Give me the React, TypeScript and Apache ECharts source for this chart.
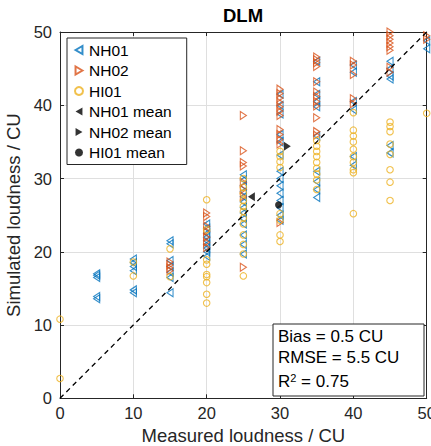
import React, { useEffect, useRef } from 'react';
import * as echarts from 'echarts';

const FONT = '"Liberation Sans", Arial, Helvetica, sans-serif';

// [measured, simulated] loudness in CU
const nh01: [number, number][] = [
  [5, 16.5], [5, 17.0], [5, 16.8], [5, 13.6], [5, 13.9],
  [10, 19.0], [10, 18.5], [10, 18.0], [10, 17.4], [10, 14.8], [10, 14.4],
  [15, 21.5], [15, 21.1], [15, 18.8], [15, 18.0], [15, 17.2], [15, 16.5], [15, 14.4],
  [20, 23.8], [20, 23.2], [20, 22.5], [20, 22.0], [20, 21.5], [20, 21.0], [20, 20.5], [20, 20.0], [20, 19.4],
  [25, 30.5], [25, 29.8], [25, 29.0], [25, 28.2], [25, 27.5], [25, 26.8], [25, 26.0], [25, 25.3], [25, 24.5], [25, 23.8], [25, 22.3], [25, 21.0], [25, 19.7],
  [30, 41.5], [30, 40.0], [30, 38.8], [30, 36.0], [30, 35.0], [30, 33.2], [30, 31.0], [30, 30.0], [30, 29.0], [30, 28.0], [30, 27.0], [30, 26.0], [30, 25.0], [30, 24.3],
  [35, 46.0], [35, 43.2], [35, 41.5], [35, 40.5], [35, 39.8], [35, 35.8], [35, 31.0], [35, 29.6], [35, 28.5], [35, 27.4],
  [40, 45.5], [40, 44.5], [40, 40.5], [40, 39.4], [40, 33.0], [40, 31.8],
  [45, 46.0], [45, 45.0], [45, 44.0], [45, 43.6], [45, 34.5], [45, 33.5],
  [50, 47.7], [50, 48.8],
];

const nh02: [number, number][] = [
  [15, 18.6], [15, 18.2], [15, 17.8], [15, 17.4],
  [20, 25.3], [20, 24.8], [20, 23.5], [20, 22.8], [20, 22.0], [20, 21.3], [20, 20.6],
  [25, 38.6], [25, 33.8], [25, 32.2], [25, 31.7], [25, 29.5], [25, 28.5], [25, 27.5], [25, 17.9],
  [30, 42.2], [30, 41.6], [30, 41.0], [30, 40.4], [30, 39.8], [30, 39.2], [30, 38.6], [30, 36.7], [30, 36.0], [30, 35.3], [30, 34.7], [30, 24.0],
  [35, 46.6], [35, 46.2], [35, 45.8], [35, 45.3], [35, 43.2], [35, 41.8], [35, 41.2], [35, 40.5], [35, 39.9], [35, 38.3], [35, 36.4], [35, 35.9],
  [40, 46.0], [40, 45.5], [40, 44.2], [40, 40.9], [40, 40.2],
  [45, 50.0], [45, 49.5], [45, 49.0], [45, 48.5], [45, 48.0], [45, 47.5], [45, 45.2], [45, 44.5],
  [50, 49.5], [50, 49.0],
];

const hi01: [number, number][] = [
  [0, 10.8], [0, 2.7],
  [10, 18.6], [10, 16.7],
  [15, 20.4], [15, 16.6],
  [20, 27.1], [20, 23.0], [20, 18.9], [20, 18.3], [20, 16.9], [20, 16.6], [20, 15.8], [20, 14.2], [20, 13.0],
  [25, 30.0], [25, 28.8], [25, 28.0], [25, 27.0], [25, 26.2], [25, 25.5], [25, 24.6], [25, 23.8], [25, 22.3], [25, 21.0], [25, 19.7], [25, 16.7],
  [30, 33.7], [30, 33.0], [30, 32.3], [30, 31.5], [30, 25.2], [30, 24.3], [30, 22.3], [30, 21.4],
  [35, 35.2], [35, 34.4], [35, 33.7], [35, 33.0], [35, 32.2], [35, 31.4], [35, 30.6], [35, 29.8], [35, 28.5],
  [40, 39.0], [40, 36.6], [40, 35.8], [40, 35.0], [40, 34.0], [40, 33.0], [40, 32.2], [40, 31.2], [40, 30.8], [40, 25.2],
  [45, 37.7], [45, 37.1], [45, 36.4], [45, 34.7], [45, 33.3], [45, 31.2], [45, 29.5], [45, 27.0],
  [50, 38.9],
];

const nh01Mean: [number, number][] = [[26.1, 27.5]];
const nh02Mean: [number, number][] = [[31.0, 34.4]];
const hi01Mean: [number, number][] = [[29.8, 26.4]];

const identityLine: [number, number][] = [[0, 0], [50, 50]];

const statsLines = ['Bias = 0.5 CU', 'RMSE = 5.5 CU'];
const r2Text = ' = 0.75';

const LEFT_TRI = 'path://M0,5L8.66,0L8.66,10Z';
const RIGHT_TRI = 'path://M8.66,5L0,0L0,10Z';

const AX = '#262626';

function hollow(color: string) {
  return { color: 'rgba(255,255,255,0)', borderColor: color, borderWidth: 1.1 };
}

export default function App() {
  const ref = useRef<HTMLDivElement>(null);
  useEffect(() => {
    if (!ref.current) return;
    const chart = echarts.init(ref.current, null, { renderer: 'svg' });
    const axisCommon = {
      type: 'value' as const,
      min: 0,
      max: 50,
      interval: 10,
      axisLine: { show: true, onZero: false, lineStyle: { color: AX, width: 1 } },
      axisTick: { show: true, inside: true, length: 4, lineStyle: { color: AX, width: 1 } },
    };
    chart.setOption({
      animation: false,
      backgroundColor: '#fff',
      title: {
        text: 'DLM',
        left: 223,
        top: 6,
        padding: 0,
        textStyle: { fontFamily: FONT, fontSize: 18.5, fontWeight: 'bold', color: '#000' },
      },
      grid: { left: 60, top: 32, right: 4.3, bottom: 47.7, containLabel: false, outerBoundsMode: 'none' },
      xAxis: [
        {
          ...axisCommon,
          position: 'bottom',
          name: 'Measured loudness / CU',
          nameLocation: 'middle',
          nameGap: 27,
          nameTextStyle: { fontFamily: FONT, fontSize: 18.5, color: AX },
          axisLabel: { fontFamily: FONT, fontSize: 16.5, color: AX, margin: 6 },
          splitLine: { show: true, lineStyle: { color: '#dfdfdf', width: 1 } },
        },
        {
          ...axisCommon,
          position: 'top',
          axisLabel: { show: false },
          splitLine: { show: false },
        },
      ],
      yAxis: [
        {
          ...axisCommon,
          position: 'left',
          name: 'Simulated loudness / CU',
          nameLocation: 'middle',
          nameGap: 27,
          nameTextStyle: { fontFamily: FONT, fontSize: 18.5, color: AX },
          axisLabel: { fontFamily: FONT, fontSize: 16.5, color: AX, margin: 8 },
          splitLine: { show: true, lineStyle: { color: '#dfdfdf', width: 1 } },
        },
        {
          ...axisCommon,
          position: 'right',
          axisLabel: { show: false },
          splitLine: { show: false },
        },
      ],
      legend: {
        orient: 'vertical',
        left: 67,
        top: 38,
        itemWidth: 10,
        itemHeight: 8,
        itemGap: 4.5,
        itemTextGap: 14,
        padding: [4, 15, 4, 7],
        backgroundColor: '#fff',
        borderColor: AX,
        borderWidth: 1,
        borderRadius: 0,
        selectedMode: false,
        textStyle: { fontFamily: FONT, fontSize: 15.5, color: '#000' },
        data: ['NH01', 'NH02', 'HI01', 'NH01 mean', 'NH02 mean', 'HI01 mean'],
      },
      series: [
        {
          name: 'NH01', type: 'scatter', data: nh01, symbol: LEFT_TRI, symbolSize: [7, 8], symbolKeepAspect: true,
          itemStyle: hollow('#0072BD'), z: 2,
        },
        {
          name: 'NH02', type: 'scatter', data: nh02, symbol: RIGHT_TRI, symbolSize: [7, 8], symbolKeepAspect: true,
          itemStyle: hollow('#D95319'), z: 2,
        },
        {
          name: 'HI01', type: 'scatter', data: hi01, symbol: 'circle', symbolSize: 6.5,
          itemStyle: hollow('#EDB120'), z: 2,
        },
        {
          name: 'identity', type: 'line', data: identityLine, symbol: 'none', silent: true,
          lineStyle: { color: '#000', width: 1.3, type: [5, 4] }, z: 3,
        },
        {
          name: 'NH01 mean', type: 'scatter', data: nh01Mean, symbol: LEFT_TRI, symbolSize: [8, 9], symbolKeepAspect: true,
          itemStyle: { color: '#000' }, z: 4,
        },
        {
          name: 'NH02 mean', type: 'scatter', data: nh02Mean, symbol: RIGHT_TRI, symbolSize: [8, 9], symbolKeepAspect: true,
          itemStyle: { color: '#000' }, z: 4,
        },
        {
          name: 'HI01 mean', type: 'scatter', data: hi01Mean, symbol: 'circle', symbolSize: 7,
          itemStyle: { color: '#000' }, z: 4,
        },
      ],
      graphic: [
        {
          type: 'rect',
          shape: { x: 273, y: 324, width: 151, height: 72 },
          style: { fill: '#fff', stroke: AX, lineWidth: 1 },
          z: 10,
        },
        ...statsLines.map((t, i) => ({
          type: 'text',
          x: 278,
          y: 336 + i * 21,
          z: 11,
          style: { text: t, fontFamily: FONT, fontSize: 17, fill: '#000', verticalAlign: 'middle' },
        })),
        {
          type: 'text',
          x: 278,
          y: 381,
          z: 11,
          style: {
            text: '{a|R}{b|2}{a|' + r2Text + '}',
            verticalAlign: 'middle',
            rich: {
              a: { fontFamily: FONT, fontSize: 17, fill: '#000' },
              b: { fontFamily: FONT, fontSize: 11, fill: '#000', verticalAlign: 'top' },
            },
          },
        },
      ],
    });
    return () => chart.dispose();
  }, []);
  return <div ref={ref} style={{ position: 'fixed', left: 0, top: 0, width: 431, height: 446 }} />;
}
